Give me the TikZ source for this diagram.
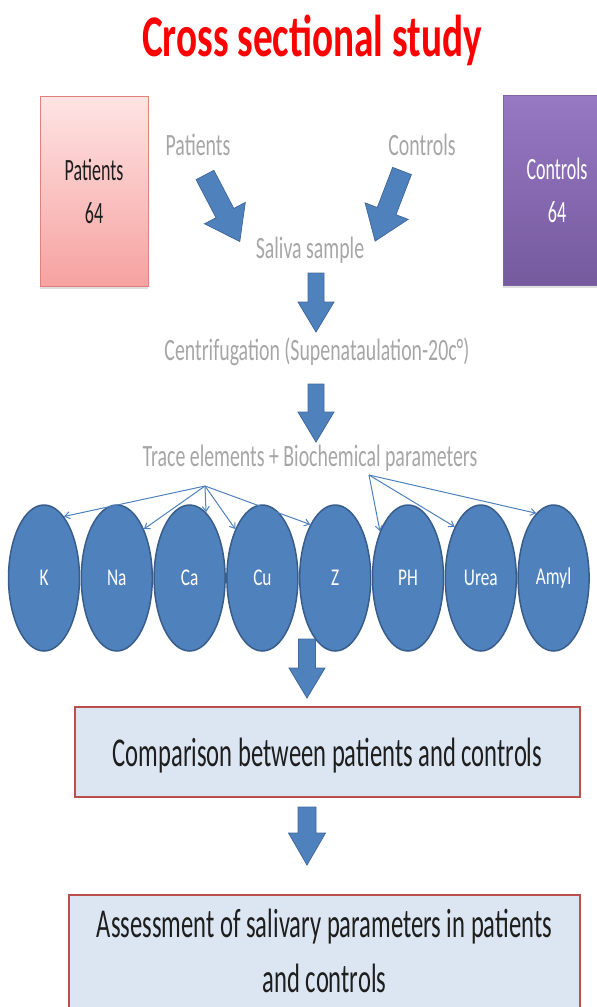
\documentclass[tikz,border=0pt]{standalone}
\usepackage{fontspec}
\setmainfont{Carlito}
\newfontfamily\titlefont[FakeStretch=0.665]{Carlito}
\newfontfamily\notefont[FakeStretch=0.64]{Carlito}
\newfontfamily\groupfont[FakeStretch=0.58]{Carlito}
\newfontfamily\elemfont[FakeStretch=0.72]{Carlito}
\newfontfamily\boxfont[FakeStretch=0.6]{Carlito}
\usetikzlibrary{positioning,shapes.geometric,shadows,arrows.meta}
\definecolor{titlered}{RGB}{255,0,0}
\definecolor{notegray}{RGB}{166,166,166}
\definecolor{elemblue}{RGB}{79,129,189}
\definecolor{elemedge}{RGB}{56,93,138}
\definecolor{arrowedge}{RGB}{65,105,155}
\definecolor{pinktop}{RGB}{254,228,228}
\definecolor{pinkbottom}{RGB}{246,162,160}
\definecolor{pinkedge}{RGB}{226,128,126}
\definecolor{purpletop}{RGB}{150,120,195}
\definecolor{purplebottom}{RGB}{118,90,158}
\definecolor{purpleedge}{RGB}{128,100,162}
\definecolor{resultfill}{RGB}{220,230,242}
\definecolor{resultedge}{RGB}{185,80,77}
\definecolor{textdark}{RGB}{30,30,30}

\tikzset{
  note/.style={text=notegray, anchor=base, inner sep=0pt,
    font=\notefont\fontsize{31}{37}\selectfont},
  group/.style={rectangle, minimum width=108pt, minimum height=190pt,
    line width=1pt, align=center, inner sep=0pt,
    font=\groupfont\fontsize{31}{43}\selectfont,
    drop shadow={shadow xshift=0pt, shadow yshift=-3pt, opacity=0.25}},
  elem/.style={ellipse, fill=elemblue, draw=elemedge, line width=1.5pt,
    minimum width=71pt, minimum height=146pt, inner sep=0pt, text=white,
    font=\elemfont\fontsize{24}{28}\selectfont},
  result/.style={rectangle, fill=resultfill, draw=resultedge, line width=2pt,
    align=center, inner xsep=0pt, text=textdark,
    font=\boxfont\fontsize{41}{55}\selectfont},
  thinarrow/.style={draw=elemblue, line width=1pt, -{Straight Barb[length=5pt,width=7pt]}},
  blockarrow/.style={fill=elemblue, draw=arrowedge, line width=0.8pt},
  % length, half shaft, half head, head length
  pics/fatarrow/.style n args={4}{code={
    \filldraw[blockarrow] (0,-#2) -- ({#1-#4},-#2) -- ({#1-#4},-#3) -- (#1,0)
      -- ({#1-#4},#3) -- ({#1-#4},#2) -- (0,#2) -- cycle;
  }}
}

\begin{document}
\begin{tikzpicture}[x=1pt, y=-1pt]
  \useasboundingbox (0,0) rectangle (597,1007);

  % title
  \node[anchor=base, inner sep=0pt, text=titlered,
        font=\titlefont\bfseries\fontsize{59}{70}\selectfont] (title) at (312,56) {Cross sectional study};

  % the two groups
  \node[group, top color=pinktop, bottom color=pinkbottom, draw=pinkedge, text=textdark] (patients) at (94,191) {Patients\\64};
  \node[group, top color=purpletop, bottom color=purplebottom, draw=purpleedge, text=white] (controls) at (557,190) {Controls\\64};

  \node[note] (patlabel) at (198,155) {Patients};
  \node[note] (conlabel) at (422,155) {Controls};
  \node[note] (saliva) at (310,258) {Saliva sample};
  \node[note] (centri) at (317,360) {Centrifugation (Supenataulation-20c°)};
  \node[note] (trace) at (310,466) {Trace elements + Biochemical parameters};

  % parameters
  \node[elem] (k) at (44,578) {K};
  \node[elem, right=0.3pt of k] (na) {Na};
  \node[elem, right=0.3pt of na] (ca) {Ca};
  \node[elem, right=0.3pt of ca] (cu) {Cu};
  \node[elem, right=0.3pt of cu] (z) {Z};
  \node[elem, right=0.3pt of z] (ph) {PH};
  \node[elem, right=0.3pt of ph] (urea) {Urea};
  \node[elem, right=0.3pt of urea] (amyl) {Amyl};

  \coordinate (trace1) at (205,486);
  \coordinate (trace2) at (369,475);
  \draw[thinarrow] (trace1) -- (k.72);
  \draw[thinarrow] (trace1) -- (na.61);
  \draw[thinarrow] (trace1) -- (ca.76);
  \draw[thinarrow] (trace1) -- (cu.119);
  \draw[thinarrow] (trace1) -- (z.115);
  \draw[thinarrow] (trace2) -- (ph.121);
  \draw[thinarrow] (trace2) -- (urea.117);
  \draw[thinarrow] (trace2) -- (amyl.105);

  % outcome boxes
  \node[result, minimum width=505pt, minimum height=90pt, inner ysep=0pt, text depth=0pt] (compare) at (327.5,752) {Comparison between patients and controls};
  \node[result, minimum width=511pt, inner ysep=14pt, text depth=20pt] (assess) at (324.5,961) {Assessment of salivary parameters in patients\\and controls};

  % block arrows
  \pic[rotate=-62.4] at (205,175) {fatarrow={75}{10}{23}{32}};
  \pic[rotate=-111] at (402,171) {fatarrow={75}{10}{23}{32}};
  \pic[rotate=-90] at (316,273) {fatarrow={59}{8}{18}{30}};
  \pic[rotate=-90] at (316,384) {fatarrow={58}{8}{18}{30}};
  \pic[rotate=-90] at (307,639) {fatarrow={59}{8.5}{18}{30}};
  \pic[rotate=-90] at (307,807) {fatarrow={58}{9}{18.5}{32}};
\end{tikzpicture}
\end{document}
